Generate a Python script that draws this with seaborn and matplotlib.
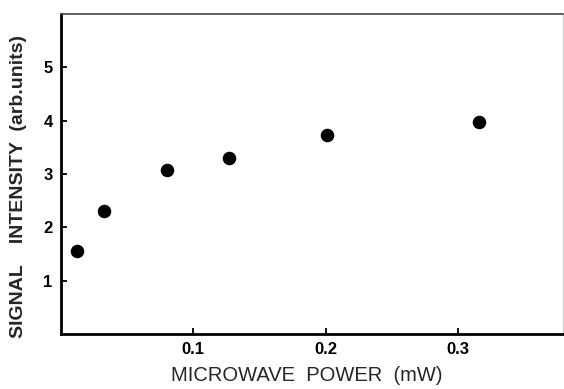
import matplotlib
matplotlib.use("Agg")
import matplotlib.pyplot as plt
import seaborn as sns
import pandas as pd

# microwave power (mW) and signal intensity (arb. units)
power_mw = [0.0125, 0.0323, 0.0804, 0.127, 0.201, 0.316]
intensity = [1.56, 2.31, 3.07, 3.31, 3.73, 3.97]
x_ticks = [0.1, 0.2, 0.3]
y_ticks = [1, 2, 3, 4, 5]

df = pd.DataFrame({"power": power_mw, "signal": intensity})

sns.set_style("white")
plt.rcParams["font.family"] = ["Liberation Sans", "DejaVu Sans"]

fig = plt.figure(figsize=(5.64, 3.89), dpi=100)
ax = fig.add_axes([0.108, 0.141, 0.89, 0.823])

sns.scatterplot(data=df, x="power", y="signal", ax=ax, color="black",
                s=95, edgecolor="black", linewidth=0, legend=False)

ax.set_xlim(0, 0.379)
ax.set_ylim(0, 6)
ax.set_xticks(x_ticks)
ax.set_xticklabels(["0.1", "0.2", "0.3"])
ax.set_yticks(y_ticks)

ax.tick_params(bottom=True, left=True, direction="in", length=4, width=1.3,
               colors="black", labelsize=12, pad=6)
for lab in ax.get_xticklabels() + ax.get_yticklabels():
    lab.set_fontweight("bold")

ax.spines["left"].set_linewidth(2)
ax.spines["bottom"].set_linewidth(2)
ax.spines["left"].set_color("black")
ax.spines["bottom"].set_color("black")
ax.spines["top"].set_linewidth(1.2)
ax.spines["top"].set_color("#444444")
ax.spines["right"].set_linewidth(0.8)
ax.spines["right"].set_color("#cccccc")

ax.set_xlabel("MICROWAVE  POWER  (mW)", fontsize=14.5)
ax.xaxis.set_label_coords(0.49, -0.1)
ax.set_ylabel("SIGNAL    INTENSITY  (arb.units)", fontsize=14,
              fontweight="bold")
ax.yaxis.set_label_coords(-0.068, 0.46)

fig.savefig("out.png", dpi=100)
